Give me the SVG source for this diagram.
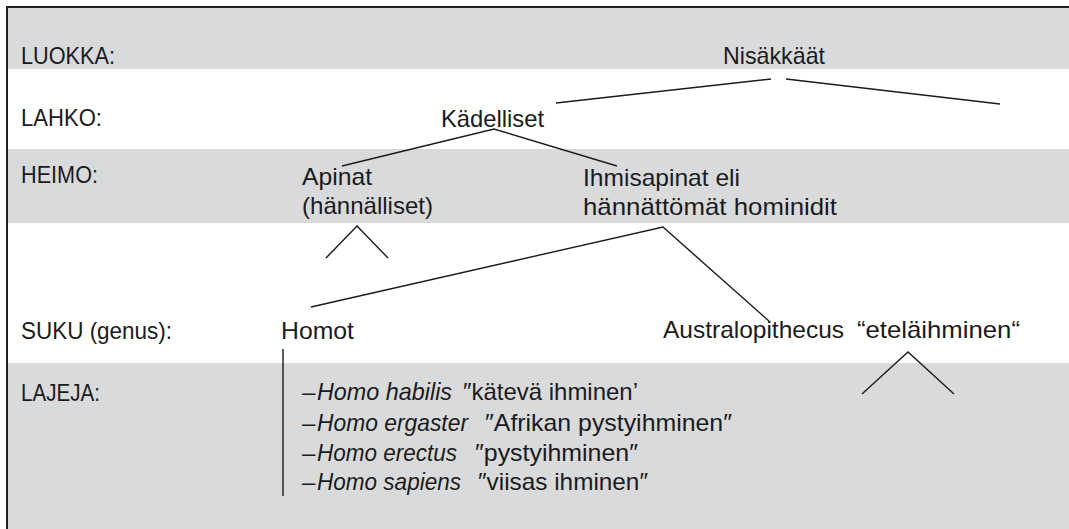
<svg xmlns="http://www.w3.org/2000/svg" width="1069" height="529" viewBox="0 0 1069 529">
<style>
.band{fill:#d9dadc}
text{font-family:"Liberation Sans",Arial,sans-serif;font-size:24px;fill:#1c1a1b}
.it{font-style:italic}
.ln{stroke:#1c1a1b;stroke-width:1.4;fill:none;stroke-linecap:butt;stroke-linejoin:miter}
.border{stroke:#231f20;stroke-width:2;fill:none}
</style>
<rect width="1069" height="529" fill="#ffffff"/>
<g id="bands">
<rect class="band" x="8" y="8" width="1061" height="61"/>
<rect class="band" x="8" y="149" width="1061" height="74"/>
<rect class="band" x="8" y="363" width="1061" height="166"/>
</g>
<g id="frame">
<line class="border" x1="6" y1="7" x2="1069" y2="7"/>
<line class="border" x1="7" y1="6" x2="7" y2="529"/>
</g>
<g id="row-labels">
<text x="21" y="64" textLength="94" lengthAdjust="spacingAndGlyphs">LUOKKA:</text>
<text x="21" y="126" textLength="81" lengthAdjust="spacingAndGlyphs">LAHKO:</text>
<text x="21" y="183" textLength="77" lengthAdjust="spacingAndGlyphs">HEIMO:</text>
<text x="21" y="339" textLength="151" lengthAdjust="spacingAndGlyphs">SUKU (genus):</text>
<text x="21" y="401" textLength="79" lengthAdjust="spacingAndGlyphs">LAJEJA:</text>
</g>
<g id="connectors">
<polyline class="ln" points="771,79 556,103"/>
<polyline class="ln" points="786,79 1000,104"/>
<polyline class="ln" points="342,166 494,129 617,166"/>
<polyline class="ln" points="326,258 357,226 388,258"/>
<polyline class="ln" points="311,307 663,227 770,322"/>
<line class="ln" x1="283" y1="349" x2="283" y2="496"/>
<polyline class="ln" points="862,394 908,352 954,394"/>
</g>
<g id="node-nisakkaat">
<text x="723" y="64" textLength="102" lengthAdjust="spacingAndGlyphs">Nisäkkäät</text>
</g>
<g id="node-kadelliset">
<text x="441" y="127" textLength="103" lengthAdjust="spacingAndGlyphs">Kädelliset</text>
</g>
<g id="node-apinat">
<text x="302" y="185" textLength="70" lengthAdjust="spacingAndGlyphs">Apinat</text>
<text x="302" y="214" textLength="131" lengthAdjust="spacingAndGlyphs">(hännälliset)</text>
</g>
<g id="node-ihmisapinat">
<text x="583" y="186" textLength="157" lengthAdjust="spacingAndGlyphs">Ihmisapinat eli</text>
<text x="583" y="215" textLength="254" lengthAdjust="spacingAndGlyphs">hännättömät hominidit</text>
</g>
<g id="node-homot">
<text x="281" y="339" textLength="73" lengthAdjust="spacingAndGlyphs">Homot</text>
</g>
<g id="node-australopithecus">
<text x="663" y="338" textLength="181" lengthAdjust="spacingAndGlyphs">Australopithecus</text>
<text x="857" y="338" textLength="163" lengthAdjust="spacingAndGlyphs">“eteläihminen“</text>
</g>
<g id="node-lajeja">
<text x="302" y="400">–</text>
<text class="it" x="317" y="400" textLength="135" lengthAdjust="spacingAndGlyphs">Homo habilis</text>
<text x="463" y="400" textLength="175" lengthAdjust="spacingAndGlyphs">″kätevä ihminen’</text>
<text x="302" y="431">–</text>
<text class="it" x="317" y="431" textLength="151" lengthAdjust="spacingAndGlyphs">Homo ergaster</text>
<text x="485" y="431" textLength="247" lengthAdjust="spacingAndGlyphs">″Afrikan pystyihminen″</text>
<text x="302" y="461">–</text>
<text class="it" x="317" y="461" textLength="140" lengthAdjust="spacingAndGlyphs">Homo erectus</text>
<text x="475" y="461" textLength="163" lengthAdjust="spacingAndGlyphs">″pystyihminen″</text>
<text x="302" y="490">–</text>
<text class="it" x="317" y="490" textLength="144" lengthAdjust="spacingAndGlyphs">Homo sapiens</text>
<text x="478" y="490" textLength="170" lengthAdjust="spacingAndGlyphs">″viisas ihminen″</text>
</g>
</svg>
